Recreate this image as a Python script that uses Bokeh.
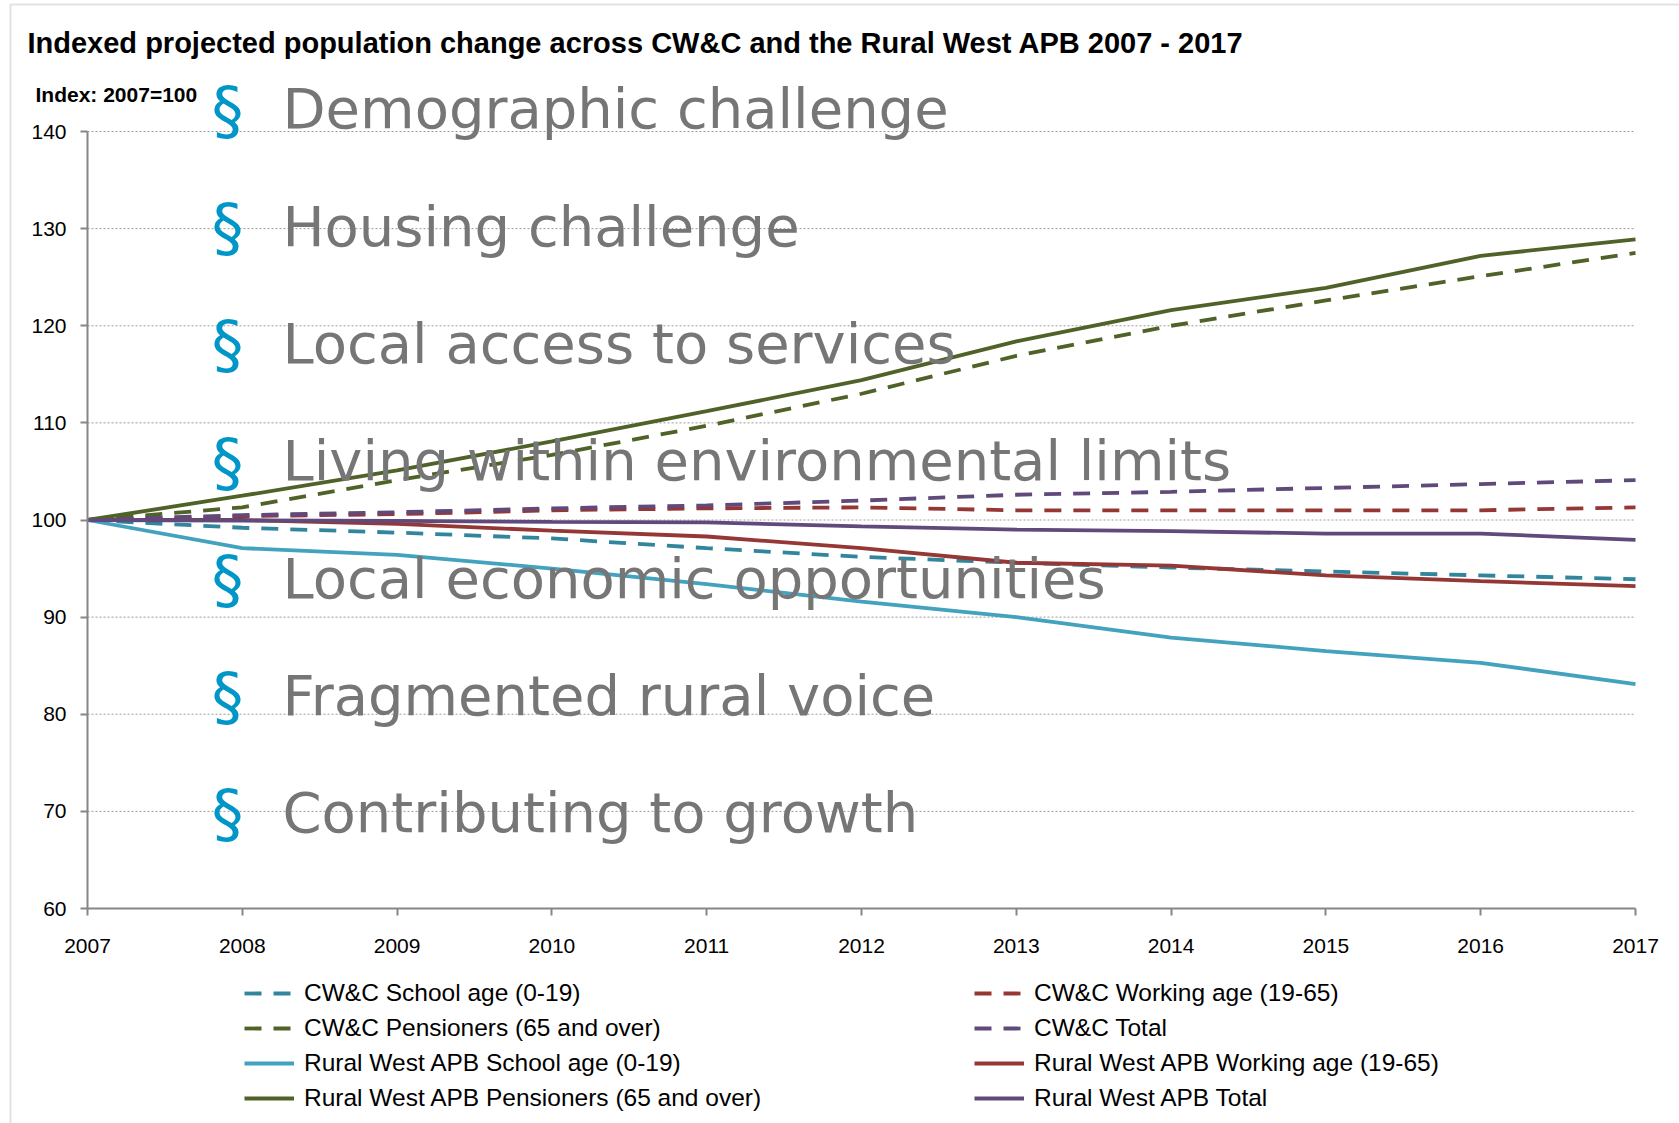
from bokeh.plotting import figure
from bokeh.models import Range1d, FixedTicker, Label, Legend, LegendItem, BoxAnnotation, LinearAxis
from bokeh.embed import file_html
from bokeh.resources import INLINE

# ---- data ----
years = [2007, 2008, 2009, 2010, 2011, 2012, 2013, 2014, 2015, 2016, 2017]
cwc_school = [100, 99.2, 98.7, 98.1, 97.1, 96.2, 95.6, 95.1, 94.7, 94.3, 93.9]
cwc_working = [100, 100.4, 100.6, 101.0, 101.2, 101.3, 101.0, 101.0, 101.0, 101.0, 101.3]
cwc_pens = [100, 101.3, 104.1, 106.7, 109.7, 113.0, 116.9, 120.0, 122.6, 125.1, 127.5]
cwc_total = [100, 100.5, 100.8, 101.2, 101.5, 102.0, 102.6, 102.9, 103.3, 103.7, 104.1]
rw_school = [100, 97.1, 96.4, 95.0, 93.4, 91.6, 90.0, 87.9, 86.5, 85.3, 83.1]
rw_working = [100, 100.0, 99.6, 98.9, 98.3, 97.1, 95.6, 95.3, 94.3, 93.7, 93.2]
rw_pens = [100, 102.5, 105.1, 108.1, 111.2, 114.4, 118.4, 121.6, 123.9, 127.2, 128.9]
rw_total = [100, 99.95, 99.9, 99.8, 99.75, 99.35, 99.0, 98.85, 98.6, 98.6, 97.95]

y_ticks = [60, 70, 80, 90, 100, 110, 120, 130, 140]

series = [
    ("CW&C School age (0-19)", cwc_school, "#31859C", "dashed"),
    ("CW&C Working age (19-65)", cwc_working, "#953735", "dashed"),
    ("CW&C Pensioners (65 and over)", cwc_pens, "#4F6228", "dashed"),
    ("CW&C Total", cwc_total, "#604A7B", "dashed"),
    ("Rural West APB School age (0-19)", rw_school, "#43A2BD", "solid"),
    ("Rural West APB Working age (19-65)", rw_working, "#953735", "solid"),
    ("Rural West APB Pensioners (65 and over)", rw_pens, "#4F6228", "solid"),
    ("Rural West APB Total", rw_total, "#604A7B", "solid"),
]

themes = [
    "Demographic challenge",
    "Housing challenge",
    "Local access to services",
    "Living within environmental limits",
    "Local economic opportunities",
    "Fragmented rural voice",
    "Contributing to growth",
]

title_text = "Indexed projected population change across CW&C and the Rural West APB 2007 - 2017"
index_text = "Index: 2007=100"

FONT = "Liberation Sans"

# ---- layout (pixels) ----
W, H = 1679, 1123
PL, PR, PT, PB = 87, 1635, 131, 908   # plotting area edges on the canvas
xpp = (years[-1] - years[0]) / (PR - PL)
ypp = (y_ticks[-1] - y_ticks[0]) / (PB - PT)


def px(xp):
    return years[0] + (xp - PL) * xpp


def py(yp):
    return y_ticks[-1] - (yp - PT) * ypp


p = figure(width=W, height=H, output_backend="svg", toolbar_location=None,
           x_range=Range1d(px(0), px(W)), y_range=Range1d(py(H), py(0)),
           x_axis_location=None, y_axis_location=None,
           min_border_left=0, min_border_right=0, min_border_top=0, min_border_bottom=0)
p.outline_line_color = None
p.background_fill_color = "white"
p.border_fill_color = "white"
p.grid.visible = False

# outer frame of the chart object
p.add_layout(BoxAnnotation(left=px(10), right=px(W + 40), top=py(4), bottom=py(H + 40),
                           fill_alpha=0, line_color="#a0a0a0", line_width=2))

# horizontal dotted gridlines
grid_vals = y_ticks[1:]
p.segment(x0=[years[0]] * len(grid_vals), x1=[years[-1]] * len(grid_vals),
          y0=grid_vals, y1=grid_vals, line_color="#9a9a9a", line_width=1, line_dash="2 2")

# axes
yaxis = LinearAxis(fixed_location=years[0], bounds=(y_ticks[0], y_ticks[-1]),
                   ticker=FixedTicker(ticks=y_ticks))
xaxis = LinearAxis(fixed_location=y_ticks[0], bounds=(years[0], years[-1]),
                   ticker=FixedTicker(ticks=years))
for ax in (xaxis, yaxis):
    ax.axis_line_color = "#868686"
    ax.axis_line_width = 2
    ax.major_tick_line_color = "#868686"
    ax.major_tick_line_width = 2
    ax.major_tick_out = 7
    ax.major_tick_in = 0
    ax.minor_tick_line_color = None
    ax.major_label_text_font = FONT
    ax.major_label_text_font_size = "21px"
    ax.major_label_text_color = "black"
xaxis.major_label_standoff = 23
yaxis.major_label_standoff = 14
p.add_layout(yaxis, "left")
p.add_layout(xaxis, "below")

renderers = {}
for name, vals, color, style in series:
    r = p.line(years, vals, line_color=color, line_width=3.8,
               line_dash="17 12" if style == "dashed" else "solid", line_cap="butt")
    renderers[name] = r

# overlay theme text (baseline correction for Bokeh's alphabetic placement)
CORR = 0.42
for i, t in enumerate(themes):
    base = 132 + i * 117.3
    p.add_layout(Label(x=px(227), y=py(base + 5 - CORR * 64), text="\u00a7", text_align="center",
                       text_baseline="alphabetic", text_font="DejaVu Sans",
                       text_font_size="64px", text_color="#0096C8"))
    p.add_layout(Label(x=px(282), y=py(base - CORR * 56), text=t, text_align="left",
                       text_baseline="alphabetic", text_font="DejaVu Sans",
                       text_font_size="56px", text_color="#767676"))

p.add_layout(Label(x=px(27), y=py(55 - CORR * 29), text=title_text, text_baseline="alphabetic",
                   text_font=FONT, text_font_style="bold", text_font_size="29px",
                   text_color="black"))
p.add_layout(Label(x=px(35), y=py(102.5 - CORR * 21), text=index_text, text_baseline="alphabetic",
                   text_font=FONT, text_font_style="bold", text_font_size="21px",
                   text_color="black"))

# legends (two columns)
left_names = [series[0][0], series[2][0], series[4][0], series[6][0]]
right_names = [series[1][0], series[3][0], series[5][0], series[7][0]]


def make_legend(names, loc):
    leg = Legend(items=[LegendItem(label=n, renderers=[renderers[n]]) for n in names],
                 location=loc, orientation="vertical")
    leg.border_line_color = None
    leg.background_fill_alpha = 0
    leg.label_text_font = FONT
    leg.label_text_font_size = "24.5px"
    leg.label_text_color = "black"
    leg.glyph_width = 50
    leg.glyph_height = 28
    leg.label_height = 28
    leg.label_standoff = 10
    leg.spacing = 7
    leg.padding = 0
    leg.margin = 0
    return leg


p.add_layout(make_legend(left_names, (244, 11)), "center")
p.add_layout(make_legend(right_names, (974, 11)), "center")

open("out.html", "w").write(file_html(p, INLINE))
